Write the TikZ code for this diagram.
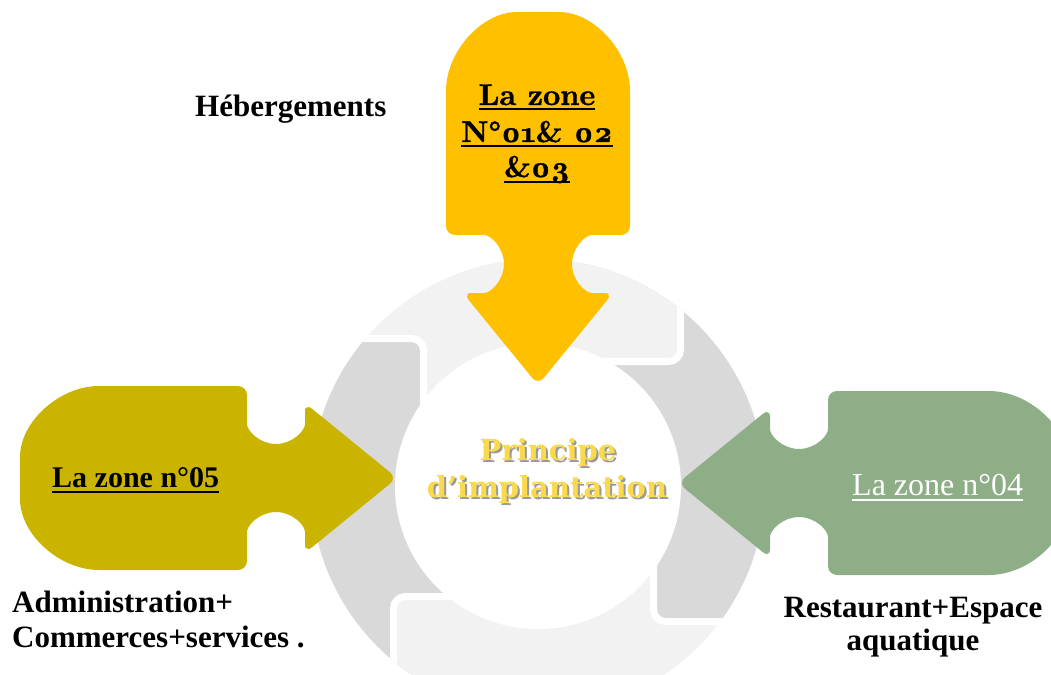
\documentclass[tikz,border=0pt]{standalone}
\usepackage{fontspec}
\setmainfont{Liberation Serif}
\newfontfamily\lmbold{lmroman10-bold}[Extension=.otf,Numbers=OldStyle,FakeBold=1.2]
\newfontfamily\dejaserif{DejaVu Serif}
\definecolor{ringlight}{HTML}{F2F2F2}
\definecolor{ringdark}{HTML}{D9D9D9}
\definecolor{zonegold}{HTML}{FFC000}
\definecolor{zoneolive}{HTML}{CBB400}
\definecolor{zonegreen}{HTML}{8EAE88}
\definecolor{titlegold}{HTML}{FAD94C}
\newcommand{\zonepath}[1]{(0,0) -- (-92,75) -- (-92,63) arc[start angle=0,end angle=-180,radius=29] -- (-150,92) -- ({88-#1},92) arc[start angle=90,end angle=180,x radius=88,y radius=80] -- (-#1,-12) arc[start angle=180,end angle=270,x radius=88,y radius=80] -- (-150,-92) -- (-150,-63) arc[start angle=180,end angle=0,radius=29] -- (-92,-75) -- cycle}
\tikzset{
  seg/.style={draw=white, line width=7pt, rounded corners=12pt},
  arrowbody/.style={rounded corners=9pt},
  lbl/.style={inner sep=0pt, font=\fontsize{31}{36}\selectfont\bfseries},
  zonetop/.style={inner sep=0pt, font=\lmbold\fontsize{30}{36}\selectfont},
  ctitle/.style={inner sep=0pt, font=\dejaserif\fontsize{29}{34}\selectfont\bfseries},
  uline/.style={line width=2.5pt}
}
\begin{document}
\begin{tikzpicture}[x=1pt,y=-1pt]
\useasboundingbox (0,0) rectangle (1051,674);
% ring segments
\begin{scope}
  \clip (538,486) circle (227);
  \fill[ringlight, seg] (800,486) -- (800,760) -- (393.5,760) -- (393.5,596.5) -- (538,596.5) -- (538,486) -- cycle;
  \fill[ringdark, seg] (538,100) -- (800,100) -- (800,621.5) -- (653.5,621.5) -- (653.5,486) -- (538,486) -- cycle;
  \fill[ringlight, seg] (250,486) -- (250,100) -- (680.5,100) -- (680.5,361.5) -- (538,361.5) -- (538,486) -- cycle;
  \fill[ringdark, seg] (560,760) -- (250,760) -- (250,338.5) -- (423.5,338.5) -- (423.5,486) -- (560,486) -- cycle;
  \begin{scope}
    \clip (250,486) rectangle (600,760);
    \fill[ringlight, seg] (800,486) -- (800,760) -- (393.5,760) -- (393.5,596.5) -- (538,596.5) -- (538,486) -- cycle;
  \end{scope}
\end{scope}
\fill[white] (538,486) circle (143);
% arrows
\begin{scope}[shift={(538,385)}, rotate=-90]
  \fill[zonegold, arrowbody] \zonepath{373};
\end{scope}
\begin{scope}[shift={(397,478)}]
  \fill[zoneolive, arrowbody] \zonepath{377};
\end{scope}
\begin{scope}[shift={(678,483)}, rotate=180]
  \fill[zonegreen, arrowbody] \zonepath{390};
\end{scope}
% top zone text
\node[zonetop, anchor=base] (t1) at (537,105) {La zone};
\node[zonetop, anchor=base] (t2) at (537,142) {N°01\& 02};
\node[zonetop, anchor=base] (t3) at (537,177) {\&03};
\draw[uline] ([yshift=-4pt]t1.base west) -- ([yshift=-4pt]t1.base east);
\draw[uline] ([yshift=-4pt]t2.base west) -- ([yshift=-4pt]t2.base east);
\draw[uline] ([yshift=-5pt]t3.base west) -- ([yshift=-5pt]t3.base east);
% left zone
\node[inner sep=0pt, font=\fontsize{30}{34}\selectfont\bfseries, anchor=base west] (z5) at (52,487) {La zone n°05};
\draw[uline] ([yshift=-5pt]z5.base west) -- ([yshift=-5pt]z5.base east);
% right zone
\node[inner sep=0pt, font=\fontsize{32}{36}\selectfont, text=white, anchor=base west] (z4) at (852,495) {La zone n°04};
\draw[uline, white] ([yshift=-5pt]z4.base west) -- ([yshift=-5pt]z4.base east);
% labels
\node[lbl, anchor=base west] (heb) at (195,117) {Hébergements};
\node[lbl, anchor=base west] (adm1) at (12,612) {Administration+};
\node[lbl, anchor=base west] (adm2) at (12,647) {Commerces+services .};
\node[lbl, anchor=base] (rest1) at (913,617) {Restaurant+Espace};
\node[lbl, anchor=base] (rest2) at (913,650) {aquatique};
% centre title
\node[ctitle, text=black!40, anchor=base] (ps) at (550,462) {Principe};
\node[ctitle, text=black!40, anchor=base] (ds) at (549,499) {d’implantation};
\node[ctitle, text=titlegold, anchor=base] (p) at (548,460) {Principe};
\node[ctitle, text=titlegold, anchor=base] (d) at (547,497) {d’implantation};
\end{tikzpicture}
\end{document}
